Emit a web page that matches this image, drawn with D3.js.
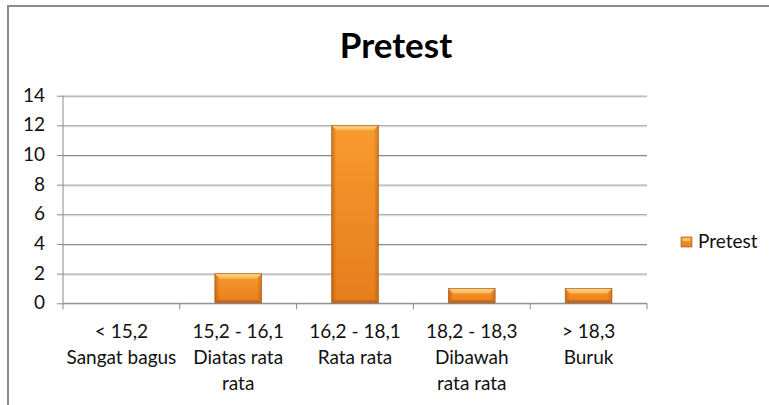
<!DOCTYPE html>
<html>
    <head>
        <title>Pretest</title>
        <script src="https://d3js.org/d3.v7.min.js"></script>
        <style>
            body {
                margin:0;
                font-family:Lato, sans-serif;
                background:white;
                overflow:hidden;
            }
            svg {
                display:block;
            }
            .label {
                font-size:19px;
                fill:#111;
                font-family:Lato, sans-serif;
            }
            .axis .domain, .axis line {
                stroke:#8a8a8a;
            }
            .grid line {
                stroke:#8a8a8a;
            }
            .grid .domain {
                stroke:none;
            }
        </style>
    </head>
    <body>
        <svg width="769" height="405" viewBox="0 0 769 405"></svg>
    </body>
    <script>
        // data
        const seriesName = 'Pretest';
        const categories = ['< 15,2', '15,2 - 16,1', '16,2 - 18,1', '18,2 - 18,3', '> 18,3'];
        const categoryLabels = [
            ['< 15,2', 'Sangat bagus'],
            ['15,2 - 16,1', 'Diatas rata', 'rata'],
            ['16,2 - 18,1', 'Rata rata'],
            ['18,2 - 18,3', 'Dibawah', 'rata rata'],
            ['> 18,3', 'Buruk']
        ];
        const values = [0, 2, 12, 1, 1];
        const yTicks = [0, 2, 4, 6, 8, 10, 12, 14];

        const svg = d3.select('svg');
        const width = 769;
        const height = 405;
        const margin = { top:95.7, bottom: 101.7, right: 122, left: 63 };
        const innerWidth = width - margin.left - margin.right;
        const innerHeight = height - margin.top - margin.bottom;

        // chart frame: only the left and top edges are inside the picture
        svg.append('path')
            .attr('d', `M8,${height}V6H${width}`)
            .attr('fill', 'none')
            .attr('stroke', '#8a8a8a')
            .attr('stroke-width', 2);

        svg.append('text')
            .attr('x', 396)
            .attr('y', 58)
            .attr('text-anchor', 'middle')
            .style('font-weight', 'bold')
            .style('font-size', '35px')
            .style('fill', '#000')
            .text(seriesName);

        // scales work in page pixels so the texts need no transforms
        const xScale = d3.scaleBand()
                        .domain(categories)
                        .range([margin.left, margin.left + innerWidth])
                        .paddingInner(0.6)
                        .paddingOuter(0.3);
        const yScale = d3.scaleLinear()
                        .domain([0, 14])
                        .range([margin.top + innerHeight, margin.top]);
        const step = xScale.step();
        const baseY = yScale(0);

        // gradients for the bevelled bars
        const defs = svg.append('defs');
        const vGrad = defs.append('linearGradient')
                        .attr('id', 'bar-fill')
                        .attr('x1', 0).attr('y1', 0).attr('x2', 0).attr('y2', 1);
        vGrad.append('stop').attr('offset', '0%').attr('stop-color', '#f99a2e');
        vGrad.append('stop').attr('offset', '100%').attr('stop-color', '#e57d1c');
        const hGrad = defs.append('linearGradient')
                        .attr('id', 'bar-side')
                        .attr('x1', 0).attr('y1', 0).attr('x2', 1).attr('y2', 0);
        hGrad.append('stop').attr('offset', '0%').attr('stop-color', '#8a3f00').attr('stop-opacity', 0.4);
        hGrad.append('stop').attr('offset', '10%').attr('stop-color', '#8a3f00').attr('stop-opacity', 0);
        hGrad.append('stop').attr('offset', '90%').attr('stop-color', '#8a3f00').attr('stop-opacity', 0);
        hGrad.append('stop').attr('offset', '100%').attr('stop-color', '#8a3f00').attr('stop-opacity', 0.35);
        const topGrad = defs.append('linearGradient')
                        .attr('id', 'bar-top')
                        .attr('x1', 0).attr('y1', 0).attr('x2', 0).attr('y2', 1);
        topGrad.append('stop').attr('offset', '0%').attr('stop-color', '#fdd58a');
        topGrad.append('stop').attr('offset', '100%').attr('stop-color', '#fbb44e');

        // gridlines (the axis generator adds empty labels; drop them)
        svg.append('g')
            .attr('class', 'grid')
            .attr('transform', `translate(${margin.left},0)`)
            .call(d3.axisLeft(yScale).tickValues(yTicks).tickSize(-innerWidth).tickFormat(''))
            .call(s => s.selectAll('text').remove());
        svg.append('g')
            .attr('class', 'grid')
            .attr('transform', `translate(${margin.left},1)`)
            .call(d3.axisLeft(yScale).tickValues(yTicks.slice(1)).tickSize(-innerWidth).tickFormat(''))
            .call(s => s.selectAll('text').remove())
            .selectAll('line').style('stroke', '#dedede');

        // bars
        const bev = 5;
        const bars = svg.selectAll('.bar')
            .data(values.map((v, i) => ({ cat: categories[i], v: v })).filter(d => d.v > 0))
            .enter()
            .append('g')
            .attr('class', 'bar');
        bars.append('rect')
            .attr('x', d => xScale(d.cat))
            .attr('y', d => yScale(d.v))
            .attr('width', xScale.bandwidth())
            .attr('height', d => baseY - yScale(d.v))
            .attr('fill', 'url(#bar-fill)');
        bars.append('rect')
            .attr('x', d => xScale(d.cat))
            .attr('y', d => yScale(d.v))
            .attr('width', xScale.bandwidth())
            .attr('height', d => baseY - yScale(d.v))
            .attr('fill', 'url(#bar-side)');
        bars.append('polygon')
            .attr('points', d => {
                const x0 = xScale(d.cat), x1 = x0 + xScale.bandwidth(), y0 = yScale(d.v);
                return [[x0, y0], [x1, y0], [x1 - bev, y0 + bev], [x0 + bev, y0 + bev]].join(' ');
            })
            .attr('fill', 'url(#bar-top)');
        bars.append('polygon')
            .attr('points', d => {
                const x0 = xScale(d.cat), x1 = x0 + xScale.bandwidth(), y1 = baseY;
                return [[x0, y1], [x1, y1], [x1 - 3, y1 - 3], [x0 + 3, y1 - 3]].join(' ');
            })
            .attr('fill', '#c0601a')
            .attr('opacity', 0.85);
        bars.append('rect')
            .attr('x', d => xScale(d.cat))
            .attr('y', d => yScale(d.v))
            .attr('width', xScale.bandwidth())
            .attr('height', d => baseY - yScale(d.v))
            .attr('fill', 'none')
            .attr('stroke', '#9c5218')
            .attr('stroke-opacity', 0.75)
            .attr('stroke-width', 0.8);

        // y axis: lines from d3, labels placed directly
        svg.append('g')
            .attr('class', 'axis')
            .attr('transform', `translate(${margin.left},0)`)
            .call(d3.axisLeft(yScale).tickValues(yTicks).tickSize(6).tickFormat('').tickSizeOuter(0))
            .call(s => s.selectAll('text').remove())
            .call(s => s.select('.domain').attr('d', `M0,${margin.top}V${baseY + 6}`));
        svg.selectAll('.ylabel')
            .data(yTicks)
            .enter()
            .append('text')
            .attr('class', 'label ylabel')
            .attr('text-anchor', 'end')
            .attr('x', margin.left - 18)
            .attr('y', d => yScale(d) + 6)
            .text(d => d);

        // x axis with ticks between categories
        const xAxis = svg.append('g').attr('class', 'axis');
        xAxis.append('line')
            .attr('x1', margin.left).attr('x2', margin.left + innerWidth)
            .attr('y1', baseY).attr('y2', baseY);
        xAxis.selectAll('.xtick')
            .data(d3.range(1, categories.length + 1))
            .enter()
            .append('line')
            .attr('x1', i => margin.left + i * step).attr('x2', i => margin.left + i * step)
            .attr('y1', baseY).attr('y2', baseY + 6);
        // one text per label line
        const labelLines = categoryLabels.flatMap((lines, i) =>
            lines.map((t, j) => ({ cat: categories[i], line: j, text: t })));
        svg.selectAll('.cat-label')
            .data(labelLines)
            .enter()
            .append('text')
            .attr('class', 'label cat-label')
            .attr('text-anchor', 'middle')
            .attr('x', d => xScale(d.cat) + xScale.bandwidth() / 2)
            .attr('y', d => baseY + 35 + d.line * 25.8)
            .text(d => d.text);

        // legend
        svg.append('rect')
            .attr('x', 681).attr('y', 237)
            .attr('width', 11).attr('height', 10)
            .attr('fill', 'url(#bar-fill)')
            .attr('stroke', '#9c5218')
            .attr('stroke-width', 0.6);
        svg.append('rect')
            .attr('x', 682.5).attr('y', 238)
            .attr('width', 8).attr('height', 3)
            .attr('fill', '#fbc063');
        svg.append('text')
            .attr('class', 'label')
            .attr('x', 698)
            .attr('y', 248)
            .text(seriesName);
    </script>
</html>
